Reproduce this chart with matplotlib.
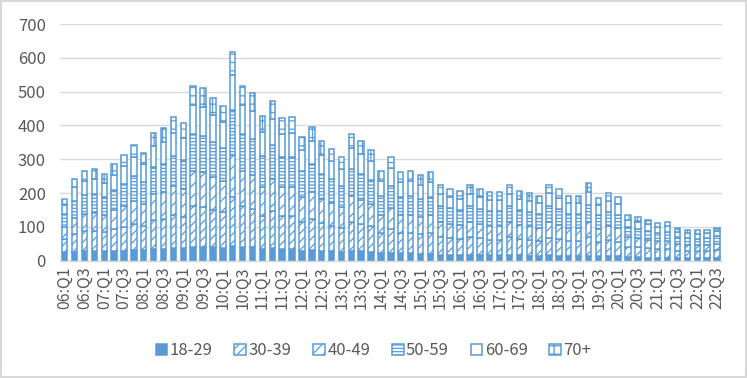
import matplotlib
matplotlib.use('Agg')
import matplotlib.pyplot as plt
import matplotlib.patches as mpatches
import numpy as np

plt.rcParams['font.family'] = ['Noto Sans CJK SC', 'DejaVu Sans']
plt.rcParams['hatch.linewidth'] = 0.9

# quarters 06:Q1 .. 22:Q3
quarters = [f'{y:02d}:Q{q}' for y in range(6, 23) for q in range(1, 5)][:67]

age_18_29 = [25, 25, 28, 28, 28, 30, 30, 32, 32, 35, 35, 38, 38, 42, 42, 40,
             38, 45, 42, 40, 35, 38, 35, 35, 30, 32, 30, 28, 26, 30, 28, 26,
             22, 24, 22, 22, 20, 20, 18, 18, 17, 18, 17, 16, 16, 17, 16, 15,
             15, 16, 15, 14, 14, 15, 13, 14, 13, 10, 10, 9, 9, 9, 8, 7, 7, 7, 8]
age_30_39 = [40, 55, 59, 61, 57, 64, 71, 78, 72, 86, 90, 97, 93, 119, 117, 111,
             105, 143, 119, 114, 98, 108, 97, 97, 84, 91, 81, 76, 70, 86, 81, 76,
             61, 71, 60, 61, 58, 61, 51, 49, 47, 51, 49, 47, 47, 52, 48, 46,
             44, 52, 49, 45, 44, 54, 43, 47, 44, 32, 30, 28, 26, 27, 22, 21, 21, 21, 23]
age_40_49 = [35, 48, 52, 53, 50, 56, 62, 68, 63, 76, 79, 85, 81, 105, 103, 97,
             93, 126, 105, 101, 86, 95, 85, 86, 74, 80, 71, 67, 62, 76, 72, 67,
             53, 62, 53, 53, 51, 53, 45, 43, 42, 45, 43, 41, 41, 45, 42, 41,
             39, 46, 43, 39, 39, 47, 38, 41, 39, 28, 26, 25, 23, 24, 20, 19, 18, 19, 20]
age_50_59 = [37, 50, 55, 56, 53, 59, 65, 72, 66, 79, 83, 89, 85, 109, 108, 102,
             97, 132, 109, 105, 90, 100, 89, 89, 78, 84, 74, 70, 64, 79, 75, 70,
             56, 65, 55, 56, 54, 56, 47, 45, 43, 47, 45, 43, 43, 47, 44, 43,
             40, 48, 45, 41, 41, 49, 40, 43, 40, 29, 27, 26, 24, 25, 20, 20, 19, 20, 21]
age_60_69 = [29, 39, 43, 44, 41, 46, 51, 56, 52, 62, 65, 69, 67, 86, 84, 80,
             76, 103, 86, 82, 71, 78, 69, 70, 61, 66, 58, 55, 50, 62, 59, 55,
             44, 51, 43, 44, 42, 44, 37, 35, 34, 37, 35, 34, 34, 37, 34, 33,
             32, 37, 35, 32, 32, 39, 31, 33, 31, 23, 21, 20, 19, 19, 16, 15, 15, 15, 16]
age_70_plus = [18, 26, 28, 28, 28, 31, 33, 37, 35, 41, 42, 46, 44, 56, 57, 52,
               50, 69, 56, 55, 48, 52, 46, 47, 40, 43, 39, 36, 34, 42, 38, 35,
               29, 33, 29, 29, 28, 28, 25, 22, 23, 25, 23, 23, 23, 25, 23, 22,
               21, 24, 25, 22, 21, 25, 20, 22, 21, 14, 15, 13, 12, 12, 11, 10, 10, 10, 10]

labels = ['18-29', '30-39', '40-49', '50-59', '60-69', '70+']
series = [age_18_29, age_30_39, age_40_49, age_50_59, age_60_69, age_70_plus]
hatches = [None, '////', '///', '-----', None, '++']

blue = '#5B9BD5'
grey = '#595959'

fig = plt.figure(figsize=(7.47, 3.78), dpi=100)
ax = fig.add_axes([0.080, 0.310, 0.8865, 0.6265])

x = np.arange(len(quarters))
bottom = np.zeros(len(quarters))
for i, (lab, vals) in enumerate(zip(labels, series)):
    vals = np.array(vals, dtype=float)
    face = blue if i == 0 else 'white'
    ax.bar(x, vals, 0.55, bottom=bottom, color=face, edgecolor=blue,
           linewidth=1.1, hatch=hatches[i], label=lab, zorder=2)
    bottom += vals

ax.set_ylim(0, 700)
ax.set_xlim(-0.5, len(quarters) - 0.5)
ax.set_yticks(range(0, 701, 100))
ax.yaxis.grid(True, color='#D9D9D9', linewidth=1.0, zorder=0)
ax.set_axisbelow(True)
for s in ['top', 'right', 'left']:
    ax.spines[s].set_visible(False)
ax.spines['bottom'].set_color('#D9D9D9')
ax.spines['bottom'].set_linewidth(1.0)

ax.set_xticks(x[::2])
ax.set_xticklabels(quarters[::2], rotation=90, fontsize=11.5, color=grey)
ax.tick_params(axis='x', length=0, pad=4)
ax.tick_params(axis='y', length=0, labelsize=12, labelcolor=grey, pad=10)

handles = []
for i, lab in enumerate(labels):
    face = blue if i == 0 else 'white'
    handles.append(mpatches.Patch(facecolor=face, edgecolor=blue,
                                  hatch=hatches[i], linewidth=1.1, label=lab))
fig.legend(handles=handles, loc='center', bbox_to_anchor=(0.5, 0.072),
           ncol=6, frameon=False, fontsize=12, handlelength=0.7,
           handleheight=0.7, handletextpad=0.15, columnspacing=1.3,
           labelcolor=grey)

fig.patches.append(mpatches.Rectangle((0.002, 0.003), 0.996, 0.994,
                                      transform=fig.transFigure, fill=False,
                                      edgecolor='#D9D9D9', linewidth=1.5))

fig.savefig('out.png', dpi=100)
